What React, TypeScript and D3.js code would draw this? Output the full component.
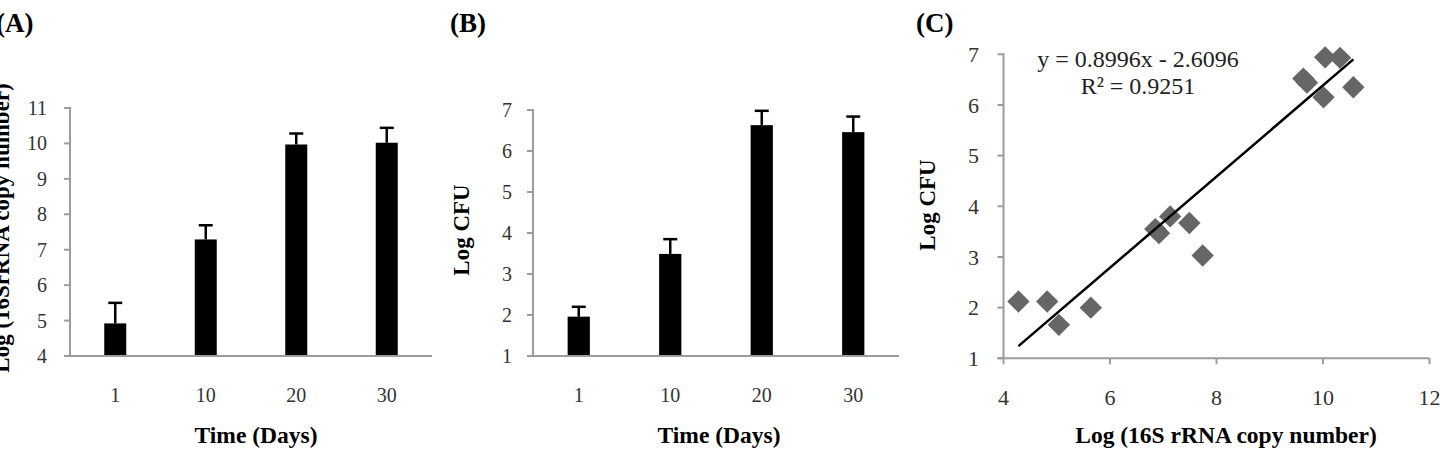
import { useEffect, useRef } from 'react';
import * as d3 from 'd3';

// Panel A / B: time points
const days = ['1', '10', '20', '30'];
const copyNumber = [4.92, 7.29, 9.97, 10.02];
const copyNumberErr = [0.58, 0.4, 0.31, 0.42];
const logCfu = [1.96, 3.49, 6.63, 6.46];
const logCfuErr = [0.24, 0.36, 0.35, 0.38];

// Panel C: scatter
const scatterX = [4.28, 4.82, 5.04, 5.64, 6.85, 6.92, 7.13, 7.49, 7.74, 9.63, 9.7, 10.04, 10.32, 10.01, 10.57];
const scatterY = [2.12, 2.12, 1.66, 2.0, 3.55, 3.47, 3.8, 3.67, 3.03, 6.52, 6.44, 6.94, 6.93, 6.15, 6.35];
const slope = 0.8996;
const intercept = -2.6096;
const equationLines = ['y = 0.8996x - 2.6096', 'R² = 0.9251'];

const FONT = '"Liberation Serif", "Times New Roman", serif';
const AXIS = '#9c9c9c';

const App = () => {
  const svgRef = useRef(null);

  useEffect(() => {
    const svg = d3.select(svgRef.current);
    svg.selectAll('*').remove();

    const barPanel = (opts) => {
      const { left, right, top, bottom, domain, tickValues, values, errs, label, ylabel, ylabelX, ylabelY, labelX, tickRight, titleX } = opts;
      const g = svg.append('g');
      const y = d3.scaleLinear().domain(domain).range([bottom, top]);
      const x = d3.scaleBand().domain(days).range([left, right]).paddingInner(0.757).paddingOuter(0.3785);

      // panel label
      g.append('text').attr('x', labelX).attr('y', 32)
        .style('font', `bold 27px ${FONT}`).text(label);

      // y ticks
      g.selectAll('.yt').data(tickValues).join('line')
        .attr('x1', left - 6).attr('x2', left).attr('y1', d => y(d)).attr('y2', d => y(d))
        .attr('stroke', AXIS).attr('stroke-width', 2);
      g.selectAll('.yl').data(tickValues).join('text')
        .attr('x', tickRight).attr('y', d => y(d)).attr('dy', '0.35em')
        .attr('text-anchor', 'end').attr('fill', '#333')
        .style('font', `20px ${FONT}`).text(d => d);

      // bars
      g.selectAll('.bar').data(values).join('rect')
        .attr('x', (d, i) => x(days[i]))
        .attr('width', x.bandwidth())
        .attr('y', d => y(d))
        .attr('height', d => bottom - y(d))
        .attr('fill', '#000');

      // error bars (upper only)
      const cx = (i) => x(days[i]) + x.bandwidth() / 2;
      g.selectAll('.err').data(values).join('line')
        .attr('x1', (d, i) => cx(i)).attr('x2', (d, i) => cx(i))
        .attr('y1', d => y(d)).attr('y2', (d, i) => y(d + errs[i]))
        .attr('stroke', '#000').attr('stroke-width', 2.5);
      g.selectAll('.cap').data(values).join('line')
        .attr('x1', (d, i) => cx(i) - 7).attr('x2', (d, i) => cx(i) + 7)
        .attr('y1', (d, i) => y(d + errs[i])).attr('y2', (d, i) => y(d + errs[i]))
        .attr('stroke', '#000').attr('stroke-width', 2.5);

      // axes
      g.append('line').attr('x1', left).attr('x2', left).attr('y1', top - 1).attr('y2', bottom)
        .attr('stroke', AXIS).attr('stroke-width', 2);
      g.append('line').attr('x1', left - 6).attr('x2', right).attr('y1', bottom).attr('y2', bottom)
        .attr('stroke', AXIS).attr('stroke-width', 2);

      // x labels
      g.selectAll('.xl').data(days).join('text')
        .attr('x', d => x(d) + x.bandwidth() / 2).attr('y', 402)
        .attr('text-anchor', 'middle').attr('fill', '#333')
        .style('font', `20px ${FONT}`).text(d => d);

      g.append('text').attr('x', titleX).attr('y', 443).attr('text-anchor', 'middle')
        .style('font', `bold 23.5px ${FONT}`).text('Time (Days)');

      g.append('text').attr('transform', `translate(${ylabelX},${ylabelY}) rotate(-90)`)
        .attr('text-anchor', 'middle')
        .style('font', `bold 23px ${FONT}`).text(ylabel);
    };

    barPanel({
      left: 70, right: 432, top: 108, bottom: 356, domain: [4, 11], tickValues: d3.range(4, 12),
      values: copyNumber, errs: copyNumberErr, label: '(A)', ylabel: 'Log (16SrRNA copy number)',
      ylabelX: 9, ylabelY: 228, labelX: -4, tickRight: 47, titleX: 256,
    });
    barPanel({
      left: 533, right: 899, top: 110, bottom: 356, domain: [1, 7], tickValues: d3.range(1, 8),
      values: logCfu, errs: logCfuErr, label: '(B)', ylabel: 'Log CFU',
      ylabelX: 469, ylabelY: 230, labelX: 450, tickRight: 512, titleX: 719,
    });

    // Panel C: scatter with linear trendline
    const c = svg.append('g');
    const x = d3.scaleLinear().domain([4, 12]).range([1003.5, 1429.5]);
    const y = d3.scaleLinear().domain([1, 7]).range([358.3, 54.3]);

    c.append('text').attr('x', 916).attr('y', 32)
      .style('font', `bold 27px ${FONT}`).text('(C)');

    const yTicks = d3.range(1, 8);
    c.selectAll('.yt').data(yTicks).join('line')
      .attr('x1', x(4) - 6).attr('x2', x(4)).attr('y1', d => y(d)).attr('y2', d => y(d))
      .attr('stroke', AXIS).attr('stroke-width', 2);
    c.selectAll('.yl').data(yTicks).join('text')
      .attr('x', 979).attr('y', d => y(d)).attr('dy', '0.35em')
      .attr('text-anchor', 'end').attr('fill', '#333')
      .style('font', `22px ${FONT}`).text(d => d);

    const xTicks = [4, 6, 8, 10, 12];
    c.selectAll('.xt').data(xTicks).join('line')
      .attr('x1', d => x(d)).attr('x2', d => x(d)).attr('y1', y(1)).attr('y2', y(1) + 6)
      .attr('stroke', AXIS).attr('stroke-width', 2);
    c.selectAll('.xl').data(xTicks).join('text')
      .attr('x', d => x(d)).attr('y', 405)
      .attr('text-anchor', 'middle').attr('fill', '#333')
      .style('font', `22px ${FONT}`).text(d => d);

    c.append('line').attr('x1', x(4)).attr('x2', x(4)).attr('y1', y(7) - 1).attr('y2', y(1))
      .attr('stroke', AXIS).attr('stroke-width', 2);
    c.append('line').attr('x1', x(4) - 6).attr('x2', x(12)).attr('y1', y(1)).attr('y2', y(1))
      .attr('stroke', AXIS).attr('stroke-width', 2);

    const pts = scatterX.map((v, i) => [v, scatterY[i]]);
    const sq = d3.symbol().type(d3.symbolSquare).size(250);
    c.selectAll('.pt').data(pts).join('path')
      .attr('d', sq)
      .attr('transform', d => `translate(${x(d[0])},${y(d[1])}) rotate(45)`)
      .attr('fill', '#666');

    const [x0, x1] = d3.extent(scatterX);
    c.append('path')
      .datum([x0, x1])
      .attr('d', d3.line().x(d => x(d)).y(d => y(slope * d + intercept)))
      .attr('stroke', '#000').attr('stroke-width', 2.5).attr('fill', 'none');

    c.selectAll('.eq').data(equationLines).join('text')
      .attr('x', 1138).attr('y', (d, i) => 67 + i * 26.5)
      .attr('text-anchor', 'middle').attr('fill', '#222')
      .style('font', `24px ${FONT}`).text(d => d);

    c.append('text').attr('x', 1226).attr('y', 443).attr('text-anchor', 'middle')
      .style('font', `bold 23.5px ${FONT}`).text('Log (16S rRNA copy number)');
    c.append('text').attr('transform', 'translate(935,205) rotate(-90)')
      .attr('text-anchor', 'middle')
      .style('font', `bold 23px ${FONT}`).text('Log CFU');
  }, []);

  return (
    <svg ref={svgRef} width={1440} height={456}
      style={{ position: 'absolute', left: 0, top: 0, background: '#fff' }} />
  );
};

export default App;
